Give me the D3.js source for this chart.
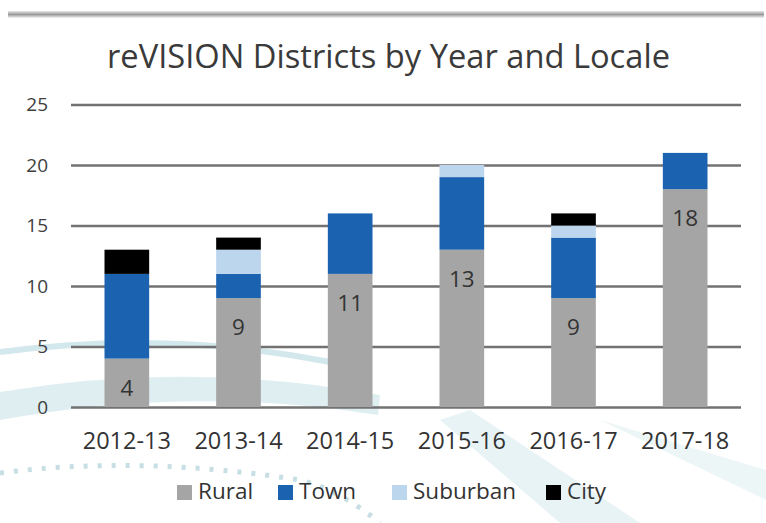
<!DOCTYPE html>
<html><head><meta charset="utf-8">
<script src="https://cdn.jsdelivr.net/npm/d3@7/dist/d3.min.js"></script>
<style>body{margin:0;background:#fff;} svg{display:block;}</style>
</head><body><svg id="c" width="766" height="523"></svg>
<script>
const years = ["2012-13","2013-14","2014-15","2015-16","2016-17","2017-18"];
const rural = [4,9,11,13,9,18];
const town = [7,2,5,6,5,3];
const suburban = [0,2,0,1,1,0];
const city = [2,1,0,0,1,0];
const seriesNames = ["Rural","Town","Suburban","City"];
const seriesColors = ["#a5a5a5","#1b63b0","#bcd6ee","#000000"];
const yTicks = [0,5,10,15,20,25];
const title = "reVISION Districts by Year and Locale";

const svg = d3.select("#c");
const W = 766, H = 523;
const m = {left:71, right:25, top:104.5, bottom:116};
const defs = svg.append("defs");
const g1 = defs.append("linearGradient").attr("id","sh").attr("x1",0).attr("y1",0).attr("x2",0).attr("y2",1);
g1.append("stop").attr("offset","0").attr("stop-color","#e8e8e8");
g1.append("stop").attr("offset","0.5").attr("stop-color","#9a9a9a");
g1.append("stop").attr("offset","1").attr("stop-color","#f4f4f4");

// decorative background
const deco = svg.append("g");
deco.append("rect").attr("x",8).attr("y",11).attr("width",756).attr("height",7).attr("fill","url(#sh)");
deco.append("path").attr("d","M0,392 Q190,360 380,395 L378,415 Q190,385 0,420 Z").attr("fill","#d6eaee").attr("opacity",0.8);
deco.append("path").attr("d","M0,352 Q170,330 330,362").attr("fill","none").attr("stroke","#d3e8ec").attr("stroke-width",6);
deco.append("path").attr("d","M440,420 L560,523 L640,523 L470,410 Z").attr("fill","#e2f0f2").attr("opacity",0.8);
deco.append("path").attr("d","M600,420 L766,500 L766,470 Z").attr("fill","#e6f2f4").attr("opacity",0.7);
deco.append("path").attr("d","M0,473 Q140,455 300,480 Q340,490 380,523").attr("fill","none").attr("stroke","#c7dfe4").attr("stroke-width",5).attr("stroke-dasharray","4 10");

const x = d3.scaleBand().domain(years).range([m.left, W-m.right]).paddingInner(0.6).paddingOuter(0.3);
const y = d3.scaleLinear().domain([0,25]).range([H-m.bottom, m.top]);

// title
svg.append("text").attr("x",388.5).attr("y",68).attr("text-anchor","middle")
  .attr("font-family","Open Sans").attr("font-size",33).attr("fill","#3a3a3a")
  .attr("textLength",563).attr("lengthAdjust","spacingAndGlyphs").text(title);

// y axis + grid
const yAxis = d3.axisLeft(y).tickValues(yTicks).tickSize(-(W-m.right-m.left)).tickPadding(23);
const ga = svg.append("g").attr("transform",`translate(${m.left},0)`).call(yAxis);
ga.select(".domain").remove();
ga.selectAll(".tick line").attr("stroke","#727272").attr("stroke-width",2.7);
ga.selectAll(".tick text").attr("font-family","Open Sans").attr("font-size",19).attr("fill","#404040");

// x axis labels
const xAxis = d3.axisBottom(x).tickSize(0).tickPadding(25);
const gx = svg.append("g").attr("transform",`translate(0,${H-m.bottom})`).call(xAxis);
gx.select(".domain").remove();
gx.selectAll("text").attr("font-family","Open Sans").attr("font-size",23.5).attr("fill","#333");

// stacked bars
const rows = years.map((yr,i)=>({year:yr, Rural:rural[i], Town:town[i], Suburban:suburban[i], City:city[i]}));
const stack = d3.stack().keys(seriesNames)(rows);
const color = d3.scaleOrdinal().domain(seriesNames).range(seriesColors);
svg.append("g").selectAll("g").data(stack).join("g").attr("fill",d=>color(d.key))
  .selectAll("rect").data(d=>d).join("rect")
  .attr("x",d=>x(d.data.year)).attr("width",x.bandwidth())
  .attr("y",d=>y(d[1])).attr("height",d=>y(d[0])-y(d[1]));

// rural labels (inside end)
svg.append("g").selectAll("text").data(rows).join("text")
  .attr("x",d=>x(d.year)+x.bandwidth()/2).attr("y",d=>y(d.Rural)+37)
  .attr("text-anchor","middle").attr("font-family","Open Sans").attr("font-size",22.5).attr("fill","#333")
  .text(d=>d.Rural);

// legend
const legX = [177,278,392,546];
const lg = svg.append("g");
seriesNames.forEach((n,i)=>{
  lg.append("rect").attr("x",legX[i]).attr("y",485).attr("width",15).attr("height",15).attr("fill",seriesColors[i]);
  lg.append("text").attr("x",legX[i]+21).attr("y",499).attr("font-family","Open Sans").attr("font-size",22.5)
    .attr("fill","#333").text(n);
});
</script></body></html>
